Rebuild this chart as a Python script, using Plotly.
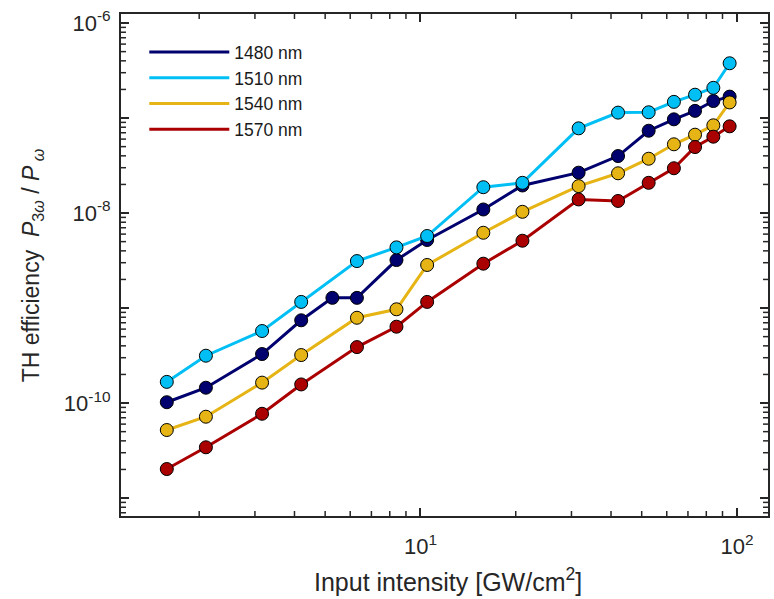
import math
import plotly.graph_objects as go

# ---- data ----
x_1480 = [1.58, 2.1, 3.16, 4.2, 5.27, 6.3, 8.4, 10.5, 15.8, 21.0, 31.6, 42.1, 52.6, 63.2, 73.7, 84.2, 94.8]
x_std = [1.58, 2.1, 3.16, 4.2, 6.3, 8.4, 10.5, 15.8, 21.0, 31.6, 42.1, 52.6, 63.2, 73.7, 84.2, 94.8]

y_1480 = [1.02e-10, 1.45e-10, 3.28e-10, 7.43e-10, 1.28e-9, 1.28e-9, 3.2e-9, 5.2e-9, 1.09e-8,
          1.95e-8, 2.66e-8, 3.98e-8, 7.35e-8, 9.69e-8, 1.19e-7, 1.51e-7, 1.68e-7]
y_1510 = [1.67e-10, 3.15e-10, 5.73e-10, 1.16e-9, 3.12e-9, 4.35e-9, 5.73e-9, 1.87e-8,
          2.08e-8, 7.79e-8, 1.14e-7, 1.15e-7, 1.48e-7, 1.76e-7, 2.08e-7, 3.77e-7]
y_1540 = [5.2e-11, 7.18e-11, 1.64e-10, 3.2e-10, 7.9e-10, 9.7e-10, 2.84e-9, 6.2e-9,
          1.03e-8, 1.92e-8, 2.62e-8, 3.73e-8, 5.29e-8, 6.68e-8, 8.38e-8, 1.46e-7]
y_1570 = [2.02e-11, 3.42e-11, 7.71e-11, 1.57e-10, 3.88e-10, 6.36e-10, 1.16e-9, 2.93e-9,
          5.11e-9, 1.39e-8, 1.34e-8, 2.08e-8, 2.96e-8, 4.95e-8, 6.36e-8, 8.18e-8]

names = ["1480 nm", "1510 nm", "1540 nm", "1570 nm"]
colors = ["#00006E", "#00BFF5", "#E6B414", "#AA0000"]

x_ticks = [10, 100]
x_ticktext = ["10<sup>1</sup>", "10<sup>2</sup>"]
y_ticks = [1e-11, 1e-10, 1e-9, 1e-8, 1e-7, 1e-6]
y_ticktext = ["", "10<sup>-10</sup>", "", "10<sup>-8</sup>", "", "10<sup>-6</sup>"]

x_range = [0.054, 2.098]      # log10 units
y_range = [-11.189, -5.905]   # log10 units

# minor tick values (every digit between decades)
x_minor = [m * 10.0 ** e for e in range(0, 3) for m in range(2, 10)]
y_minor = [m * 10.0 ** e for e in range(-12, -5) for m in range(2, 10)]

series = [(x_1480, y_1480), (x_std, y_1510), (x_std, y_1540), (x_std, y_1570)]

fig = go.Figure()
for (xs, ys), nm, c in zip(series, names, colors):
    fig.add_trace(go.Scatter(
        x=xs, y=ys, mode="lines+markers", name=nm, showlegend=False,
        line=dict(color=c, width=3),
        marker=dict(size=13, color=c, line=dict(color="black", width=1)),
    ))
# legend entries (lines only)
for nm, c in zip(names, colors):
    fig.add_trace(go.Scatter(x=[None], y=[None], mode="lines", name=nm,
                             line=dict(color=c, width=3)))

axis_color = "#262626"

fig.update_layout(
    xaxis=dict(type="log", range=x_range,
               tickmode="array", tickvals=x_ticks, ticktext=x_ticktext,
               ticks="inside", ticklen=8, tickwidth=1.5, tickcolor=axis_color,
               showline=True, linewidth=2, linecolor=axis_color, mirror="ticks",
               showgrid=False, zeroline=False,
               ticklabelstandoff=10, tickfont=dict(size=22, color=axis_color)),
    yaxis=dict(type="log", range=y_range,
               tickmode="array", tickvals=y_ticks, ticktext=y_ticktext,
               ticks="inside", ticklen=8, tickwidth=1.5, tickcolor=axis_color,
               showline=True, linewidth=2, linecolor=axis_color, mirror="ticks",
               showgrid=False, zeroline=False,
               ticklabelstandoff=4, tickfont=dict(size=22, color=axis_color)),
)

W, H = 774, 599
ML, MR, MT, MB = 121, 4, 14, 83
plot_w = W - ML - MR
plot_h = H - MT - MB
minor_len = 5
fx = minor_len / plot_w
fy = minor_len / plot_h

shapes = []
tick_line = dict(color=axis_color, width=1.5)
for v in x_minor:
    p = (math.log10(v) - x_range[0]) / (x_range[1] - x_range[0])
    if 0 < p < 1:
        shapes.append(dict(type="line", xref="paper", yref="paper", x0=p, x1=p,
                           y0=0, y1=fy, line=tick_line, layer="above"))
        shapes.append(dict(type="line", xref="paper", yref="paper", x0=p, x1=p,
                           y0=1 - fy, y1=1, line=tick_line, layer="above"))
for v in y_minor:
    p = (math.log10(v) - y_range[0]) / (y_range[1] - y_range[0])
    if 0 < p < 1:
        shapes.append(dict(type="line", xref="paper", yref="paper", y0=p, y1=p,
                           x0=0, x1=fx, line=tick_line, layer="above"))
        shapes.append(dict(type="line", xref="paper", yref="paper", y0=p, y1=p,
                           x0=1 - fx, x1=1, line=tick_line, layer="above"))

fig.update_layout(
    width=W, height=H,
    margin=dict(l=ML, r=MR, t=MT, b=MB),
    plot_bgcolor="white", paper_bgcolor="white",
    font=dict(family="Liberation Sans, Arial, sans-serif", size=20, color=axis_color),
    shapes=shapes,
    legend=dict(x=0.036, y=0.96, xanchor="left", yanchor="top",
                font=dict(size=17.5, color="#1a1a1a"), bgcolor="rgba(0,0,0,0)",
                itemwidth=80, tracegroupgap=0),
    annotations=[
        dict(text="Input intensity [GW/cm<sup>2</sup>]", xref="paper", yref="paper",
             x=0.505, y=-0.128, xanchor="center", yanchor="middle", showarrow=False,
             font=dict(size=25, color=axis_color)),
        dict(text="TH efficiency  <i>P</i><sub>3<i>ω</i></sub> / <i>P</i><sub> <i>ω</i></sub>",
             xref="paper", yref="paper", x=-0.137, y=0.5, xanchor="center", yanchor="middle",
             textangle=-90, showarrow=False, font=dict(size=23, color=axis_color)),
    ],
)

fig.write_html("out.html")
